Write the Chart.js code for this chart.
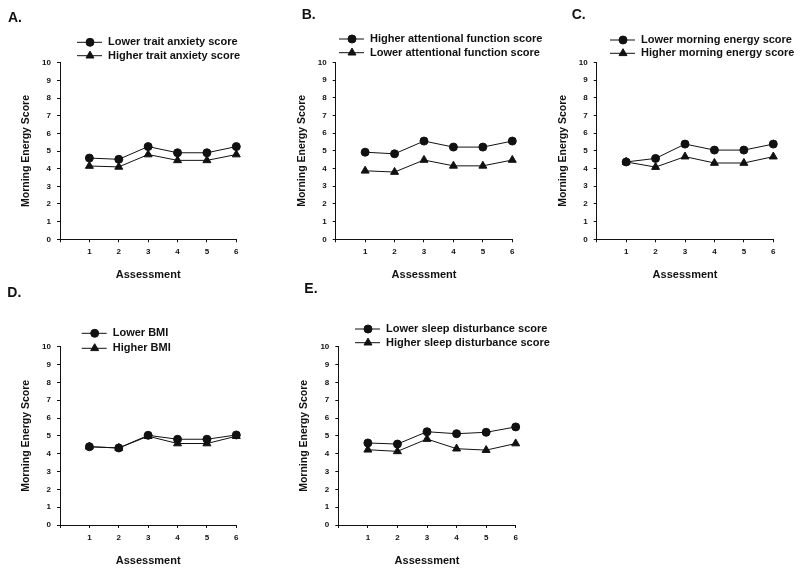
<!DOCTYPE html>
<html>
<head>
<meta charset="utf-8">
<script src="https://cdn.jsdelivr.net/npm/chart.js@4.4.1/dist/chart.umd.min.js"></script>
<style>
  html, body { margin: 0; padding: 0; background: #fff; }
  #wrap { position: relative; width: 800px; height: 573px; overflow: hidden; }
  canvas { position: absolute; }
</style>
</head>
<body>
<div id="wrap">
  <canvas id="panelA"></canvas>
  <canvas id="panelB"></canvas>
  <canvas id="panelC"></canvas>
  <canvas id="panelD"></canvas>
  <canvas id="panelE"></canvas>
</div>
<script>
const assessments = [1, 2, 3, 4, 5, 6];

// A. trait anxiety
const anxietyNames = ['Lower trait anxiety score', 'Higher trait anxiety score'];
const anxietyLower = [4.6, 4.53, 5.25, 4.9, 4.9, 5.25];
const anxietyHigher = [4.15, 4.1, 4.8, 4.47, 4.47, 4.8];

// B. attentional function
const attentionNames = ['Higher attentional function score', 'Lower attentional function score'];
const attentionHigher = [4.92, 4.83, 5.55, 5.21, 5.21, 5.55];
const attentionLower = [3.87, 3.8, 4.48, 4.15, 4.15, 4.48];

// C. morning energy
const energyNames = ['Lower morning energy score', 'Higher morning energy score'];
const energyLower = [4.37, 4.57, 5.38, 5.04, 5.04, 5.38];
const energyHigher = [4.37, 4.08, 4.67, 4.31, 4.31, 4.67];

// D. BMI
const bmiNames = ['Lower BMI', 'Higher BMI'];
const bmiLower = [4.39, 4.32, 5.03, 4.81, 4.81, 5.05];
const bmiHigher = [4.39, 4.32, 4.98, 4.57, 4.57, 4.98];

// E. sleep disturbance
const sleepNames = ['Lower sleep disturbance score', 'Higher sleep disturbance score'];
const sleepLower = [4.6, 4.54, 5.23, 5.12, 5.2, 5.5];
const sleepHigher = [4.22, 4.13, 4.82, 4.28, 4.2, 4.57];

const FONT = "'Liberation Sans', Arial, sans-serif";
const INK = '#111';

function marker(ctx, style, x, y, r) {
  ctx.beginPath();
  if (style === 'triangle') {
    let rad = 0;
    ctx.moveTo(x + Math.sin(rad) * r, y - Math.cos(rad) * r);
    rad += Math.PI * 2 / 3;
    ctx.lineTo(x + Math.sin(rad) * r, y - Math.cos(rad) * r);
    rad += Math.PI * 2 / 3;
    ctx.lineTo(x + Math.sin(rad) * r, y - Math.cos(rad) * r);
    ctx.closePath();
  } else {
    ctx.arc(x, y, r, 0, Math.PI * 2);
  }
  ctx.fill();
  ctx.stroke();
}

// legend with a short line through the marker, plus the panel letter
const lineLegend = {
  id: 'lineLegend',
  afterDraw(chart, args, opts) {
    const ctx = chart.ctx;
    ctx.save();
    ctx.fillStyle = INK;
    ctx.strokeStyle = INK;
    ctx.lineWidth = 1;
    ctx.font = 'bold 14px ' + FONT;
    ctx.textBaseline = 'alphabetic';
    ctx.fillText(opts.letter, opts.letterX, opts.letterY);
    ctx.font = 'bold 11px ' + FONT;
    ctx.textBaseline = 'middle';
    chart.data.datasets.forEach((ds, i) => {
      const y = opts.y + i * opts.gap;
      ctx.beginPath();
      ctx.moveTo(opts.x, y);
      ctx.lineTo(opts.x + 25, y);
      ctx.stroke();
      marker(ctx, ds.pointStyle, opts.x + 13, y, ds.pointRadius);
      ctx.fillText(ds.label, opts.x + 31, y);
    });
    ctx.restore();
  }
};

function makePanel(id, g, names, first, second, leg) {
  const cv = document.getElementById(id);
  cv.width = g.w;
  cv.height = g.h;
  cv.style.left = g.left + 'px';
  cv.style.top = g.top + 'px';

  const styles = ['circle', 'triangle'];
  const radii = [4, 4.6];
  const datasets = [first, second].map((vals, i) => ({
    label: names[i],
    data: assessments.map((a, k) => ({ x: a, y: vals[k] })),
    borderColor: INK,
    backgroundColor: INK,
    borderWidth: 1,
    pointStyle: styles[i],
    pointRadius: radii[i],
    pointBackgroundColor: INK,
    pointBorderColor: INK,
    pointBorderWidth: 1,
    tension: 0,
    clip: false
  }));

  const tickFont = { family: FONT, size: 8, weight: 'bold' };
  const titleFont = { family: FONT, size: 11, weight: 'bold' };

  new Chart(cv, {
    type: 'line',
    data: { datasets },
    options: {
      responsive: false,
      animation: false,
      devicePixelRatio: 1,
      layout: {
        padding: {
          left: g.axisX - g.left - 45,
          top: g.yTop - g.top,
          right: g.left + g.w - g.x6,
          bottom: g.top + g.h - g.yBottom - 44
        }
      },
      plugins: {
        legend: { display: false },
        tooltip: { enabled: false },
        lineLegend: {
          letter: leg.letter,
          letterX: leg.lx - g.left,
          letterY: leg.ly - g.top,
          x: leg.x - g.left,
          y: leg.y - g.top,
          gap: leg.gap
        }
      },
      scales: {
        x: {
          type: 'linear',
          min: 0,
          max: 6,
          afterFit: s => { s.height = 44; },
          ticks: {
            stepSize: 1,
            autoSkip: false,
            maxRotation: 0,
            padding: 5,
            color: INK,
            font: tickFont,
            callback: v => (v === 0 ? '' : v)
          },
          grid: { drawOnChartArea: false, tickLength: 3, color: INK, lineWidth: 1 },
          border: { color: INK, width: 1 },
          title: { display: true, text: 'Assessment', color: INK, font: titleFont, padding: { top: 0, bottom: 1.4 } }
        },
        y: {
          min: 0,
          max: 10,
          afterFit: s => { s.width = 45; },
          ticks: { stepSize: 1, padding: 6, color: INK, font: tickFont },
          grid: { drawOnChartArea: false, tickLength: 3, color: INK, lineWidth: 1 },
          border: { color: INK, width: 1 },
          title: {
            display: true,
            text: 'Morning Energy Score',
            color: INK,
            font: { family: FONT, size: 10.5, weight: 'bold' },
            padding: { top: 4.7, bottom: 0 }
          }
        }
      }
    },
    plugins: [lineLegend]
  });
}

makePanel('panelA',
  { left: 0, top: 0, w: 270, h: 280, axisX: 60, yTop: 62.7, yBottom: 239.3, x6: 236.3 },
  anxietyNames, anxietyLower, anxietyHigher,
  { letter: 'A.', lx: 8, ly: 22, x: 77, y: 42.3, gap: 13.4 });

makePanel('panelB',
  { left: 270, top: 0, w: 275, h: 280, axisX: 335.7, yTop: 62.3, yBottom: 239.3, x6: 512.3 },
  attentionNames, attentionHigher, attentionLower,
  { letter: 'B.', lx: 301.7, ly: 19.3, x: 339, y: 39, gap: 13.7 });

makePanel('panelC',
  { left: 545, top: 0, w: 255, h: 280, axisX: 596.7, yTop: 62.3, yBottom: 239.3, x6: 773.3 },
  energyNames, energyLower, energyHigher,
  { letter: 'C.', lx: 571.7, ly: 19.3, x: 610, y: 40, gap: 13.3 });

makePanel('panelD',
  { left: 0, top: 280, w: 270, h: 293, axisX: 60, yTop: 346.7, yBottom: 525, x6: 236.3 },
  bmiNames, bmiLower, bmiHigher,
  { letter: 'D.', lx: 7.3, ly: 297.3, x: 81.7, y: 333.3, gap: 15 });

makePanel('panelE',
  { left: 270, top: 280, w: 300, h: 293, axisX: 338.3, yTop: 346.7, yBottom: 525, x6: 515.7 },
  sleepNames, sleepLower, sleepHigher,
  { letter: 'E.', lx: 304.3, ly: 293.3, x: 355, y: 329, gap: 13.7 });
</script>
</body>
</html>
